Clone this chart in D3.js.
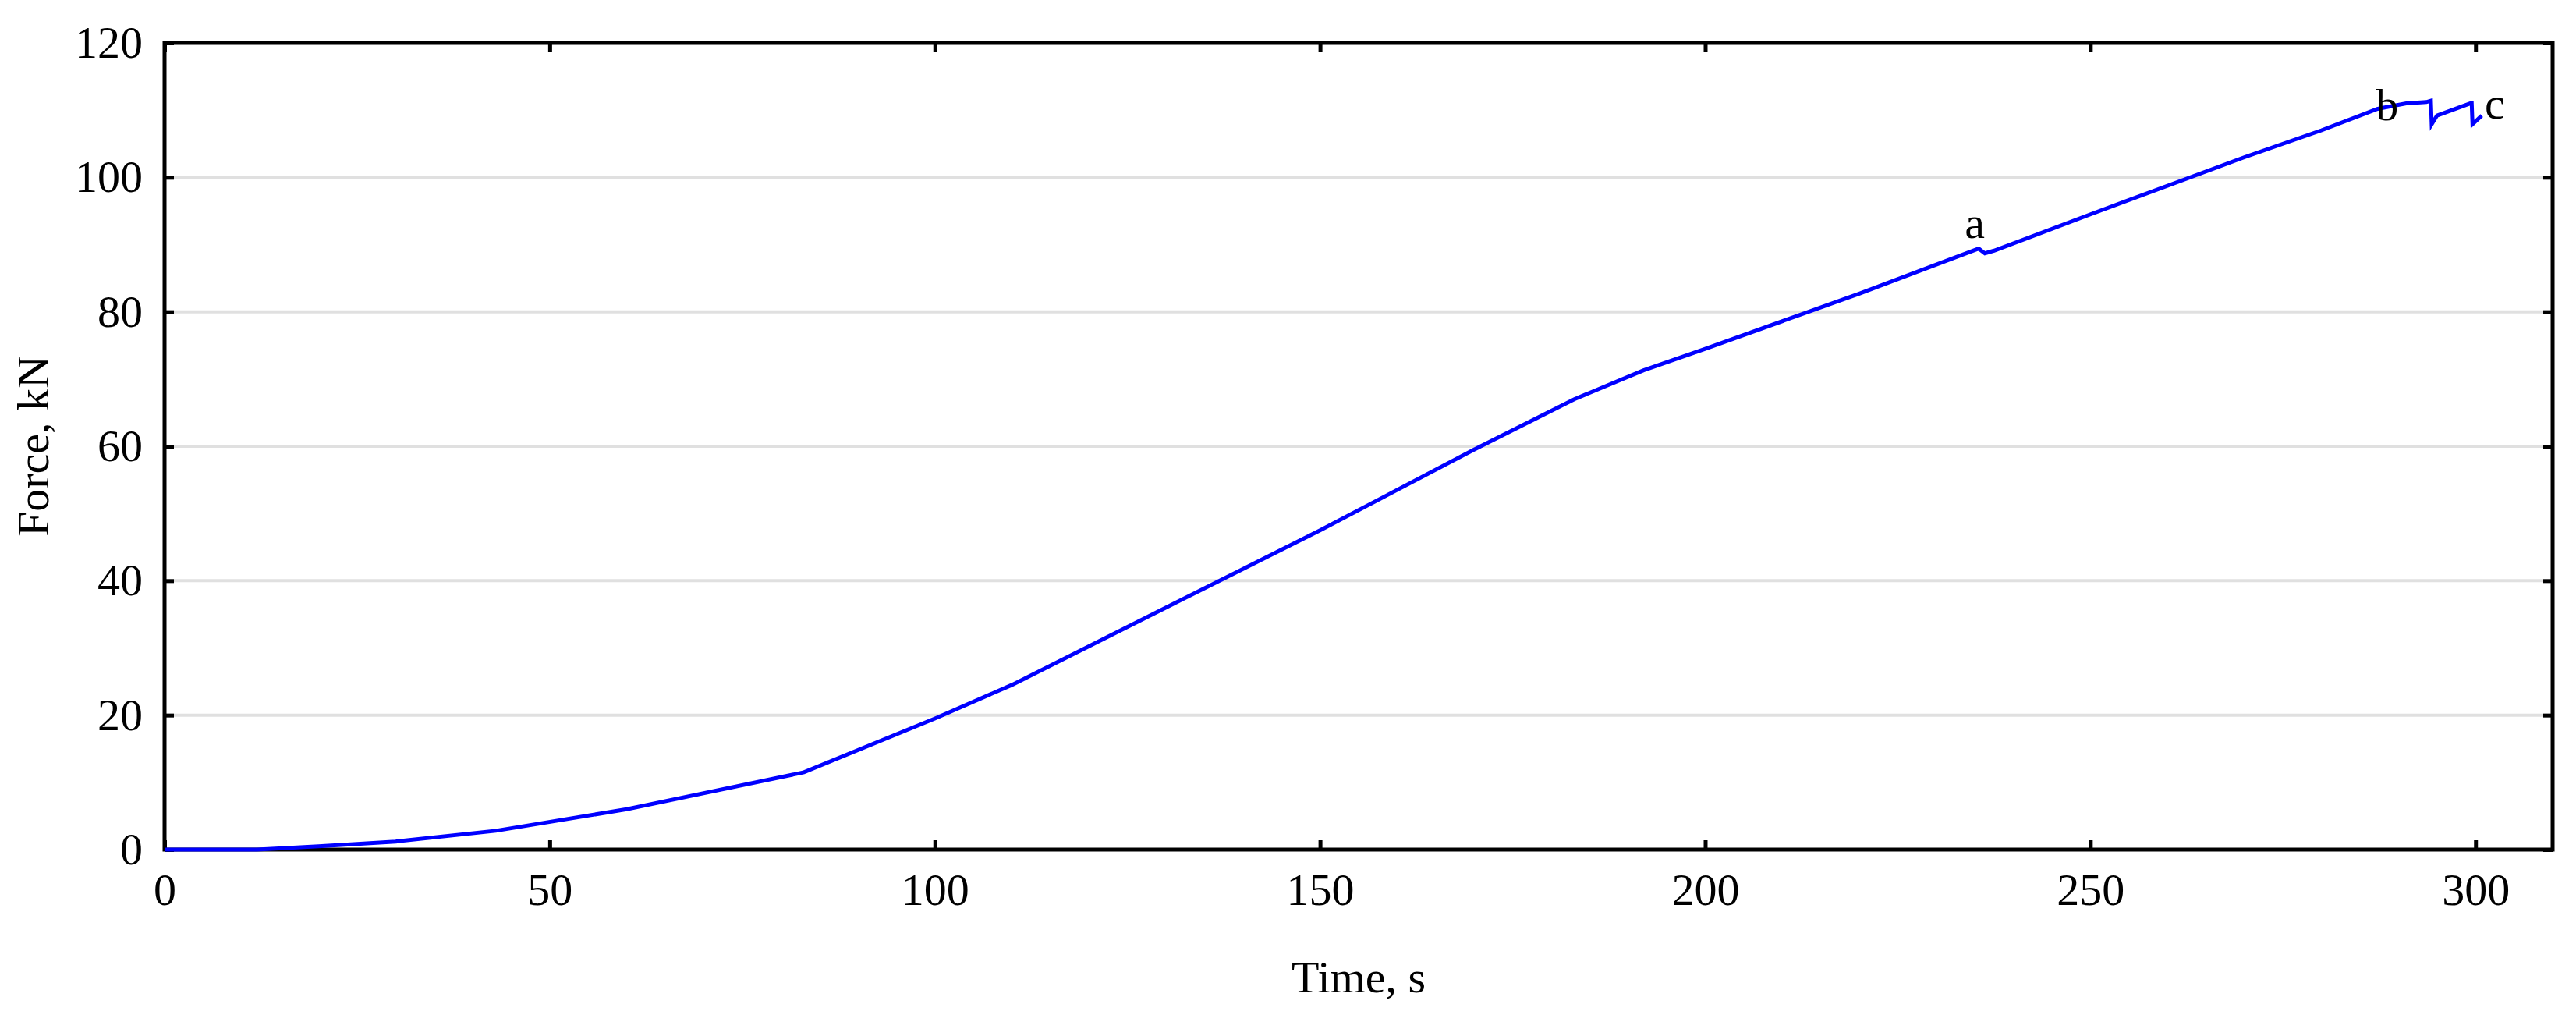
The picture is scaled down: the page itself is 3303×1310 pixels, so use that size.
<!DOCTYPE html>
<html><head><meta charset="utf-8">
<script src="https://cdn.jsdelivr.net/npm/d3@7"></script>
<style>body{margin:0;background:#fff}text{font-family:"Liberation Serif","Times New Roman",serif;fill:#000}</style>
</head><body><svg id="c" width="3303" height="1310"></svg>
<script>
const time  = [0,12,20,30,43,60,83,100,110,130,150,170,183,192,200,220,235.5,236.3,237.5,250,270,280,287.3,291,293.6,294.2,294.3,295,299.3,299.5,299.6,300.8];
const force = [0,0,0.5,1.2,2.8,6,11.5,19.5,24.5,36,47.5,59.5,67,71.3,74.5,82.7,89.4,88.7,89.1,94.5,103,107,110.2,111,111.2,111.4,107.9,109.2,111,111,107.9,109.2];
const xTicks = [0,50,100,150,200,250,300];
const yTicks = [0,20,40,60,80,100,120];
const labels = [{t:"a",x:235,y:91},{t:"b",x:288.5,y:108.5},{t:"c",x:302.5,y:108.8}];

const L=211,R=3273,T=55,B=1089;
const x=d3.scaleLinear().domain([0,310]).range([L,R]);
const y=d3.scaleLinear().domain([0,120]).range([B,T]);
const svg=d3.select("#c");
svg.append("g").selectAll("line").data(yTicks.filter(v=>v>0&&v<120)).join("line")
 .attr("x1",L).attr("x2",R).attr("y1",d=>y(d)).attr("y2",d=>y(d)).attr("stroke","#e0e0e0").attr("stroke-width",4);
const fs=58;
const ax=(g)=>g.call(s=>s.select(".domain").remove()).call(s=>s.selectAll("line").attr("stroke","#000").attr("stroke-width",5)).call(s=>s.selectAll("text").attr("font-size",fs).attr("font-family","Liberation Serif"));
svg.append("g").attr("transform",`translate(0,${B})`).call(d3.axisBottom(x).tickValues(xTicks).tickSize(-12).tickPadding(30).tickFormat(d3.format("d"))).call(ax);
svg.append("g").attr("transform",`translate(0,${T})`).call(d3.axisTop(x).tickValues(xTicks).tickSize(-12).tickFormat("")).call(ax);
svg.append("g").attr("transform",`translate(${L},0)`).call(d3.axisLeft(y).tickValues(yTicks).tickSize(-12).tickPadding(28).tickFormat(d3.format("d"))).call(ax);
svg.append("g").attr("transform",`translate(${R},0)`).call(d3.axisRight(y).tickValues(yTicks).tickSize(-12).tickFormat("")).call(ax);
svg.append("rect").attr("x",L).attr("y",T).attr("width",R-L).attr("height",B-T).attr("fill","none").attr("stroke","#000").attr("stroke-width",5);
const data=time.map((t,i)=>[t,force[i]]);
svg.append("path").datum(data).attr("fill","none").attr("stroke","#0000ff").attr("stroke-width",5)
 .attr("d",d3.line().x(d=>x(d[0])).y(d=>y(d[1])));
svg.selectAll(".lab").data(labels).join("text").attr("x",d=>x(d.x)).attr("y",d=>y(d.y)).attr("text-anchor","middle").attr("font-size",fs).text(d=>d.t);
svg.append("text").attr("x",(L+R)/2).attr("y",1272).attr("text-anchor","middle").attr("font-size",fs).text("Time, s");
svg.append("text").attr("transform",`translate(62,${(T+B)/2}) rotate(-90)`).attr("text-anchor","middle").attr("font-size",fs).text("Force, kN");
</script></body></html>
